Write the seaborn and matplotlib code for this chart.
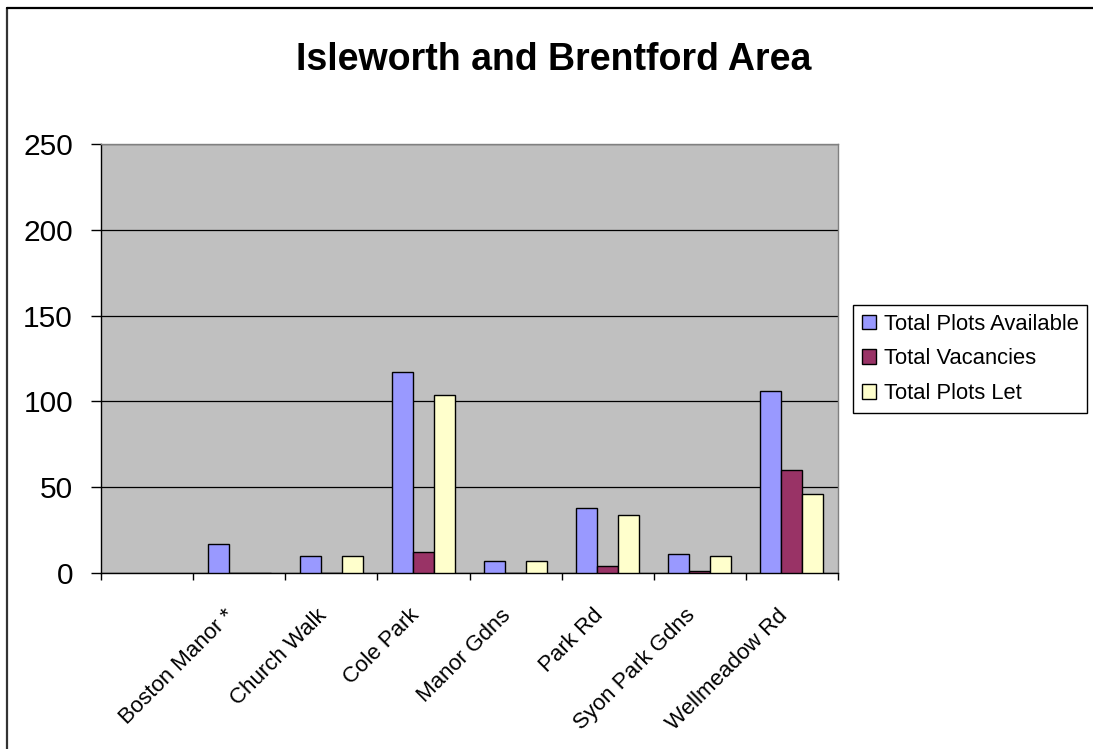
import numpy as np
import pandas as pd
import matplotlib
matplotlib.use("Agg")
import matplotlib.pyplot as plt
from matplotlib.lines import Line2D
from matplotlib.ticker import FixedLocator
import seaborn as sns

# Allotment sites (first slot is left blank on the category axis)
sites = ["", "Boston Manor *", "Church Walk", "Cole Park", "Manor Gdns",
         "Park Rd", "Syon Park Gdns", "Wellmeadow Rd"]
plots_available = [np.nan, 17, 10, 117, 7, 38, 11, 106]
vacancies = [np.nan, 0, 0, 12, 0, 4, 1, 60]
plots_let = [np.nan, 0, 10, 104, 7, 34, 10, 46]

series_names = ["Total Plots Available", "Total Vacancies", "Total Plots Let"]
series_colors = ["#9999FF", "#993366", "#FFFFCC"]
y_ticks = [0, 50, 100, 150, 200, 250]
title = "Isleworth and Brentford Area"

df = pd.DataFrame({"site": sites,
                   series_names[0]: plots_available,
                   series_names[1]: vacancies,
                   series_names[2]: plots_let})
long = df.melt(id_vars="site", var_name="series", value_name="count").dropna()

sns.set_theme(style="white")
plt.rcParams["font.family"] = ["Liberation Sans", "DejaVu Sans"]
plt.rcParams["text.color"] = "black"
plt.rcParams["xtick.color"] = "black"
plt.rcParams["ytick.color"] = "black"
plt.rcParams["xtick.labelcolor"] = "black"
plt.rcParams["ytick.labelcolor"] = "black"

W, H = 1093, 749
fig = plt.figure(figsize=(W / 100, H / 100), dpi=100)
fig.patch.set_facecolor("white")
ax = fig.add_axes([101 / W, 1 - 573 / H, (838 - 101) / W, (573 - 144) / H])
ax.set_facecolor("#C0C0C0")

sns.barplot(data=long, x="site", y="count", hue="series", order=sites,
            hue_order=series_names, palette=series_colors, width=0.685,
            errorbar=None, edgecolor="black", linewidth=1.0, saturation=1,
            ax=ax, zorder=3)

ax.set_ylim(0, 250)
ax.set_xlim(-0.5, len(sites) - 0.5)
ax.set_yticks(y_ticks)
ax.set_yticklabels([str(v) for v in y_ticks], fontsize=21.5, color="black")
ax.yaxis.grid(True, color="black", linewidth=0.9, zorder=1)
ax.set_axisbelow(True)
ax.set_xlabel("")
ax.set_ylabel("")

# category labels at bar-group centres, boundary ticks between groups
ax.set_xticks(range(len(sites)))
ax.set_xticklabels(sites, rotation=45, ha="right", va="top", fontsize=16,
                   color="black")
ax.tick_params(axis="x", which="major", length=0, pad=23)
ax.xaxis.set_minor_locator(FixedLocator(np.arange(-0.5, len(sites), 1.0)))
ax.tick_params(axis="x", which="minor", bottom=True, length=5, width=1,
               color="black", direction="out")
ax.tick_params(axis="y", left=True, length=7.2, width=1, color="black",
               direction="out", pad=13)

for side in ["left", "bottom"]:
    ax.spines[side].set_color("black")
    ax.spines[side].set_linewidth(1.0)
for side in ["top", "right"]:
    ax.spines[side].set_color("#808080")
    ax.spines[side].set_linewidth(1.0)

handles, labels = ax.get_legend_handles_labels()
ax.get_legend().remove()
leg = fig.legend(handles, labels, loc="upper left",
                 bbox_to_anchor=(853 / W, 1 - 305 / H),
                 bbox_transform=fig.transFigure, fontsize=15.8,
                 frameon=True, fancybox=False, framealpha=1,
                 edgecolor="black", borderpad=0.4, borderaxespad=0,
                 handlelength=0.65, handleheight=0.65, handletextpad=0.35,
                 labelspacing=0.62)
leg.get_frame().set_linewidth(1.0)
for t in leg.get_texts():
    t.set_color("black")

fig.text(554 / W, 1 - 70 / H, title, ha="center", va="baseline",
         fontsize=27, fontweight="bold", color="black")

# chart border
fig.add_artist(Line2D([7 / W, 7 / W], [0, 1 - 8 / H], transform=fig.transFigure,
                      color="#333333", linewidth=1.6))
fig.add_artist(Line2D([7 / W, 1], [1 - 8 / H, 1 - 8 / H], transform=fig.transFigure,
                      color="black", linewidth=1.6))

fig.savefig("out.png", dpi=100, facecolor="white")
